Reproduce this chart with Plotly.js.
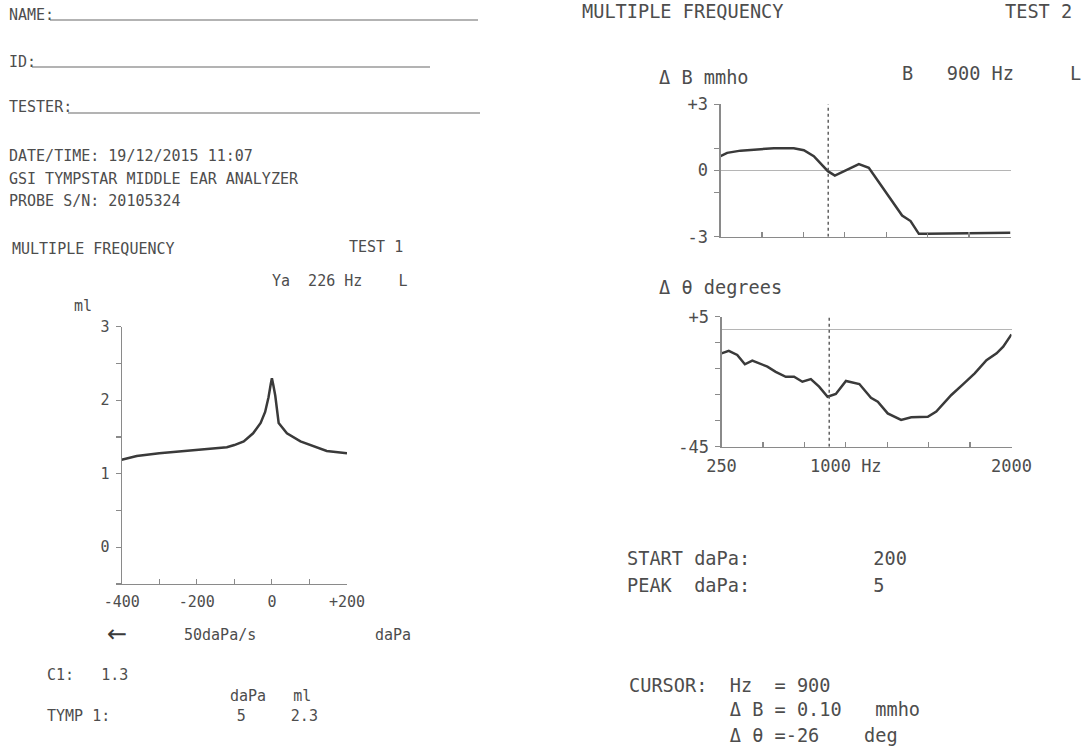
<!DOCTYPE html>
<html>
<head>
<meta charset="utf-8">
<script src="https://cdn.plot.ly/plotly-3.0.1.min.js"></script>
<style>
html,body{margin:0;padding:0;background:#fff;}
#chart{width:1088px;height:751px;}
</style>
</head>
<body>
<div id="chart"></div>
<script>
// ---- Test 1 : 226 Hz tympanogram (pressure daPa vs admittance ml) ----
var pressure = [-400,-360,-300,-250,-200,-150,-120,-100,-75,-50,-30,-18,-9,-3,0,4,9,18,40,76,111,146,200];
var admittance = [1.19,1.24,1.28,1.30,1.33,1.34,1.36,1.39,1.44,1.55,1.69,1.84,2.04,2.22,2.30,2.20,2.06,1.69,1.55,1.44,1.37,1.31,1.28];
var pressureTicks = [-400,-300,-200,-100,0,100,200];
var pressureTickText = ['-400','','-200','','0','','+200'];
var admTicks = [-0.5,0,0.5,1,1.5,2,2.5,3];
var admTickText = ['','0','','1','','2','','3'];

// ---- Test 2 : multiple frequency, delta B (mmho) ----
var freqB = [250,290,371,471,572,692,753,813,863,898,940,994,1055,1085,1145,1216,1276,1346,1397,1447,1497,1779,2000];
var deltaB = [0.65,0.80,0.90,0.95,1.01,1.01,0.92,0.65,0.27,-0.03,-0.23,-0.03,0.20,0.29,0.12,-0.63,-1.31,-2.04,-2.29,-2.87,-2.87,-2.85,-2.82];
var bTicks = [-3,-1,0,1,3];
var bTickText = ['-3','','0','','+3'];

// ---- Test 2 : multiple frequency, delta theta (degrees) ----
var freqT = [250,294,345,391,436,527,577,638,688,738,789,839,890,940,1001,1082,1152,1193,1253,1334,1395,1495,1546,1637,1707,1778,1849,1910,1950,2000];
var deltaTheta = [-9.1,-8.1,-9.7,-13.3,-11.9,-14.2,-16.2,-18.1,-18.1,-20.0,-19.0,-21.9,-25.8,-24.7,-19.7,-20.9,-26.2,-27.7,-32.2,-34.7,-33.7,-33.5,-31.5,-25.1,-21.0,-16.8,-11.7,-9.1,-6.5,-1.8];
var thTicks = [-45,-35,-25,-15,-5,5];
var thTickText = ['-45','','','','','+5'];

var freqTicks = [250,500,750,1000,1250,1500,1750,2000];
var freqTickText = ['250','','','1000 Hz','','','','2000'];
var cursorHz = 900;

var W = 1088, H = 751;
var MONO = 'DejaVu Sans Mono';
var INK = '#4d4d4d', AX = '#8a8a8a', CURVE = '#3a3a3a';

function px(x){ return x / W; }
function py(y){ return 1 - y / H; }
function txt(s, x, y, size, color, family){
  return {text: s.replace(/ /g, '\u00A0'), x: px(x), y: py(y), xref: 'paper', yref: 'paper',
          xanchor: 'left', yanchor: 'middle', showarrow: false,
          font: {family: family || MONO, size: size, color: color || INK}};
}

var L = 15, R = 18.6;
var annotations = [
  txt('NAME:', 7, 15, L),
  txt('ID:', 7, 62, L),
  txt('TESTER:', 7, 107, L),
  txt('DATE/TIME: 19/12/2015 11:07', 7, 156, L),
  txt('GSI TYMPSTAR MIDDLE EAR ANALYZER', 7, 179, L),
  txt('PROBE S/N: 20105324', 7, 201, L),
  txt('MULTIPLE FREQUENCY', 10, 249, L),
  txt('TEST 1', 347, 247, L),
  txt('Ya  226 Hz    L', 270, 281, L),
  txt('ml', 72, 306, L),
  txt('\u2190', 105, 634, 24, '#3a3a3a', 'DejaVu Sans'),
  txt('50daPa/s', 182, 635, L),
  txt('daPa', 373, 635, L),
  txt('C1:   1.3', 45, 675, L),
  txt('daPa   ml', 228, 696, L),
  txt('TYMP 1:              5     2.3', 45, 716, L),

  txt('MULTIPLE FREQUENCY', 580, 12, R),
  txt('TEST 2', 1003, 12, R),
  txt('\u0394 B mmho', 657, 78, R),
  txt('B   900 Hz     L', 900, 74, R),
  txt('\u0394 \u03b8 degrees', 657, 288, R),
  txt('START daPa:           200', 625, 558, R),
  txt('PEAK  daPa:           5', 625, 585, R),
  txt('CURSOR:  Hz  = 900', 627, 685, R),
  txt('         \u0394 B = 0.10   mmho', 627, 709, R),
  txt('         \u0394 \u03b8 =-26    deg', 627, 735, R)
];

var shapes = [
  {type:'line', xref:'paper', yref:'paper', x0:px(50), x1:px(478), y0:py(20), y1:py(20), line:{color:'#9a9a9a', width:1.3}},
  {type:'line', xref:'paper', yref:'paper', x0:px(32), x1:px(430), y0:py(67), y1:py(67), line:{color:'#9a9a9a', width:1.3}},
  {type:'line', xref:'paper', yref:'paper', x0:px(68), x1:px(480), y0:py(113), y1:py(113), line:{color:'#9a9a9a', width:1.3}}
];

var curveLine = {color: CURVE, width: 2.5};
var traces = [
  {x: pressure, y: admittance, xaxis:'x', yaxis:'y', mode:'lines', line: curveLine, hoverinfo:'skip'},
  {x: freqB, y: deltaB, xaxis:'x2', yaxis:'y2', mode:'lines', line: curveLine, hoverinfo:'skip'},
  {x: freqT, y: deltaTheta, xaxis:'x3', yaxis:'y3', mode:'lines', line: curveLine, hoverinfo:'skip'},
  {x: [cursorHz, cursorHz], y: [-3, 3], xaxis:'x2', yaxis:'y2', mode:'lines', line:{color:'#555', width:1.4, dash:'dot'}, hoverinfo:'skip'},
  {x: [cursorHz, cursorHz], y: [-45, 5], xaxis:'x3', yaxis:'y3', mode:'lines', line:{color:'#555', width:1.4, dash:'dot'}, hoverinfo:'skip'}
];

function xAx(dom, range, anchor, tv, tt, size, showLabels){
  return {domain: dom, range: range, anchor: anchor, showline: true, linecolor: AX, linewidth: 1.2,
          ticks: 'inside', ticklen: 5, tickwidth: 1.2, tickcolor: AX, tickmode: 'array', tickvals: tv, ticktext: tt,
          showticklabels: showLabels, tickfont: {family: MONO, size: size, color: INK},
          showgrid: false, zeroline: false, fixedrange: true, ticklabelstandoff: 4};
}
function yAx(dom, range, anchor, tv, tt, size, zl){
  return {domain: dom, range: range, anchor: anchor, showline: true, linecolor: AX, linewidth: 1.2,
          ticks: 'outside', ticklen: 5, tickwidth: 1.2, tickcolor: AX, tickmode: 'array', tickvals: tv, ticktext: tt,
          tickfont: {family: MONO, size: size, color: INK},
          showgrid: false, zeroline: zl, zerolinecolor: '#b5b5b5', zerolinewidth: 1.5, fixedrange: true, ticklabelstandoff: 3};
}

var layout = {
  width: W, height: H, margin: {l:0, r:0, t:0, b:0},
  paper_bgcolor: '#ffffff', plot_bgcolor: 'rgba(0,0,0,0)', showlegend: false,
  font: {family: MONO, color: INK},
  xaxis:  xAx([px(121.7), px(347)], [-400, 200], 'y', pressureTicks, pressureTickText, 15, true),
  yaxis:  yAx([py(584), py(326.7)], [-0.5, 3], 'x', admTicks, admTickText, 15, false),
  xaxis2: xAx([px(720.5), px(1010.5)], [250, 2000], 'y2', freqTicks, freqTicks.map(function(){return '';}), 17, false),
  yaxis2: yAx([py(236.7), py(104.3)], [-3, 3], 'x2', bTicks, bTickText, 17, true),
  xaxis3: xAx([px(721.5), px(1011.5)], [250, 2000], 'y3', freqTicks, freqTickText, 17, true),
  yaxis3: yAx([py(446.7), py(316.7)], [-45, 5], 'x3', thTicks, thTickText, 17, true),
  annotations: annotations,
  shapes: shapes
};

Plotly.newPlot('chart', traces, layout, {displayModeBar: false, staticPlot: true});
</script>
</body>
</html>
